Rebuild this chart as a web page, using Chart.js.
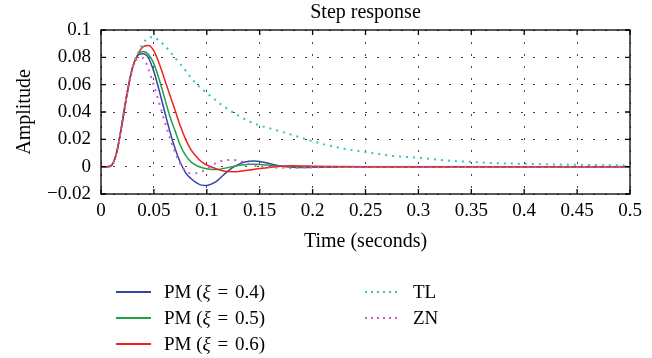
<!DOCTYPE html>
<html>
<head>
<meta charset="utf-8">
<script src="https://cdn.jsdelivr.net/npm/chart.js@4.4.0/dist/chart.umd.min.js"></script>
<style>
    html, body { margin: 0; padding: 0; background: #fff; }
    #wrap { position: relative; width: 652px; height: 358px; }
    #legend { position: absolute; left: 0; top: 0; font-family: "Liberation Serif", serif; font-size: 19px; color: #000; }
    .item { position: absolute; height: 26px; display: flex; align-items: center; white-space: pre; }
    .swatch { width: 35px; height: 2px; margin-right: 13px; }
    .eq { margin: 0 2px; }
</style>
</head>
<body>
<div id="wrap">
    <canvas id="myChart" width="652" height="358"></canvas>
    <div id="legend"></div>
</div>
<script>
const times = [0, 0.005, 0.01, 0.015, 0.02, 0.025, 0.03, 0.035, 0.04, 0.045, 0.05, 0.055, 0.06, 0.065, 0.07, 0.075,
    0.08, 0.085, 0.09, 0.095, 0.1, 0.105, 0.11, 0.115, 0.12, 0.125, 0.13, 0.135, 0.14, 0.145, 0.15, 0.155, 0.16,
    0.165, 0.17, 0.175, 0.18, 0.19, 0.2, 0.225, 0.25, 0.275, 0.3, 0.325, 0.35, 0.375, 0.4, 0.425, 0.45, 0.475, 0.5];

const pm04 = [0, 0, 0.001, 0.011, 0.032, 0.055, 0.073, 0.0815, 0.0826, 0.0795, 0.0695, 0.0557, 0.0407, 0.026, 0.0133, 0.003,
    -0.0045, -0.0087, -0.0117, -0.0135, -0.0137, -0.0125, -0.0102, -0.0066, -0.0033, -0.0004, 0.0017, 0.0032, 0.0039, 0.0041,
    0.0038, 0.0031, 0.0021, 0.0012, 0.0004, -0.0001, -0.0004, -0.0006, -0.0005, -0.0002, 0, 0, 0, 0, 0, 0, 0, 0, 0, 0, 0];
const pm05 = [0, 0, 0.001, 0.011, 0.032, 0.055, 0.073, 0.0818, 0.0843, 0.082, 0.0752, 0.0638, 0.0505, 0.037, 0.0262, 0.0155,
    0.0082, 0.0035, 0.001, -0.0006, -0.0016, -0.002, -0.002, -0.0014, -0.0006, 0.0002, 0.0009, 0.0014, 0.0017, 0.0017,
    0.0016, 0.0013, 0.001, 0.0007, 0.0005, 0.0003, 0.0001, 0, -0.0001, 0, 0, 0, 0, 0, 0, 0, 0, 0, 0, 0, 0];
const pm06 = [0, 0, 0.001, 0.011, 0.032, 0.055, 0.073, 0.0825, 0.0878, 0.0887, 0.0848, 0.0755, 0.0642, 0.0527, 0.0412, 0.0297,
    0.02, 0.0125, 0.0074, 0.0036, 0.0012, -0.0004, -0.0018, -0.003, -0.0036, -0.0037, -0.0035, -0.003, -0.0025, -0.0019,
    -0.0014, -0.0009, -0.0004, 0, 0.0003, 0.0005, 0.0006, 0.0005, 0.0003, 0.0001, 0, 0, 0, 0, 0, 0, 0, 0, 0, 0, 0];
const tl = [0, 0, 0.001, 0.011, 0.032, 0.055, 0.073, 0.083, 0.0905, 0.0945, 0.0948, 0.092, 0.0889, 0.0843, 0.0797, 0.075,
    0.0702, 0.0652, 0.0608, 0.057, 0.0538, 0.0508, 0.0477, 0.0447, 0.0421, 0.0396, 0.0373, 0.0351, 0.0332, 0.0316,
    0.0302, 0.029, 0.0279, 0.0268, 0.0257, 0.0246, 0.0234, 0.021, 0.0186, 0.0138, 0.0107, 0.0079, 0.0065, 0.0046,
    0.0035, 0.0025, 0.0021, 0.0017, 0.0014, 0.0011, 0.0009];
const zn = [0, 0, 0.001, 0.011, 0.032, 0.055, 0.073, 0.079, 0.0795, 0.071, 0.0595, 0.0466, 0.0336, 0.0212, 0.0105, 0.002,
    -0.0033, -0.0049, -0.0048, -0.0037, -0.0015, 0.001, 0.0032, 0.0044, 0.0049, 0.0049, 0.0044, 0.0032, 0.0018, 0.0008,
    0.0002, -0.0002, -0.0005, -0.0007, -0.0008, -0.0009, -0.0009, -0.0007, -0.0005, -0.0002, 0, 0, 0, 0, 0, 0, 0, 0, 0, 0, 0];

const seriesNames = ['PM (ξ = 0.4)', 'PM (ξ = 0.5)', 'PM (ξ = 0.6)', 'TL', 'ZN'];
const seriesColors = ['#3445a8', '#22a044', '#f02020', '#33c4c4', '#c060c8'];

function points(values) {
    return times.map((t, i) => ({ x: t, y: values[i] }));
}

function makeSet(i, values, dotted, order) {
    return {
        label: seriesNames[i],
        data: points(values),
        borderColor: seriesColors[i],
        borderWidth: dotted ? 2 : 1.5,
        borderDash: dotted ? [2, 5] : [],
        pointRadius: 0,
        cubicInterpolationMode: 'monotone',
        fill: false,
        order: order
    };
}

const frame = {
    id: 'frame',
    afterDraw(chart) {
        const { ctx, chartArea: a, scales: { x, y } } = chart;
        ctx.save();
        ctx.strokeStyle = '#000';
        ctx.lineWidth = 1.3;
        ctx.strokeRect(a.left, a.top, a.right - a.left, a.bottom - a.top);
        ctx.beginPath();
        x.ticks.forEach(t => {
            const px = x.getPixelForValue(t.value);
            ctx.moveTo(px, a.bottom); ctx.lineTo(px, a.bottom - 5);
            ctx.moveTo(px, a.top); ctx.lineTo(px, a.top + 5);
        });
        y.ticks.forEach(t => {
            const py = y.getPixelForValue(t.value);
            ctx.moveTo(a.left, py); ctx.lineTo(a.left + 5, py);
            ctx.moveTo(a.right, py); ctx.lineTo(a.right - 5, py);
        });
        ctx.stroke();
        ctx.restore();
    }
};

const serif = 'Liberation Serif';
const ctx = document.getElementById('myChart').getContext('2d');
const myChart = new Chart(ctx, {
    type: 'line',
    data: {
        datasets: [
            makeSet(0, pm04, false, 4),
            makeSet(1, pm05, false, 3),
            makeSet(2, pm06, false, 2),
            makeSet(3, tl, true, 1),
            makeSet(4, zn, true, 0)
        ]
    },
    options: {
        responsive: false,
        animation: false,
        layout: { padding: { left: 0, right: 22, top: 0, bottom: 104 } },
        plugins: {
            legend: { display: false },
            tooltip: { enabled: false },
            title: {
                display: true,
                text: 'Step response',
                fullSize: false,
                color: '#000',
                font: { family: serif, size: 20, weight: 'normal' },
                padding: { top: 1, bottom: 5 }
            }
        },
        scales: {
            x: {
                type: 'linear',
                min: 0,
                max: 0.5,
                afterFit: s => { s.height = 60; },
                ticks: {
                    stepSize: 0.05,
                    padding: 6,
                    color: '#000',
                    maxRotation: 0,
                    autoSkip: false,
                    font: { family: serif, size: 19 },
                    callback: v => String(Number(v.toFixed(3)))
                },
                grid: { color: '#444', lineWidth: 1, drawTicks: false },
                border: { display: false, dash: [2, 10] },
                title: {
                    display: true,
                    text: 'Time (seconds)',
                    color: '#000',
                    font: { family: serif, size: 20 },
                    padding: { top: 0, bottom: 0 }
                }
            },
            y: {
                min: -0.02,
                max: 0.1,
                afterFit: s => { s.width = 101; },
                ticks: {
                    stepSize: 0.02,
                    padding: 10,
                    color: '#000',
                    font: { family: serif, size: 19 },
                    callback: v => String(Number(v.toFixed(3))).replace('-', '\u2212')
                },
                grid: { color: '#444', lineWidth: 1, drawTicks: false },
                border: { display: false, dash: [2, 10] },
                title: {
                    display: true,
                    text: 'Amplitude',
                    color: '#000',
                    font: { family: serif, size: 20 },
                    padding: { top: 13, bottom: 0 }
                }
            }
        }
    },
    plugins: [frame]
});

// legend below the plot, two columns
const legendSpots = [[116, 279], [116, 305], [116, 331], [365, 279], [365, 305]];
const legend = document.getElementById('legend');
seriesNames.forEach((name, i) => {
    const dotted = i >= 3;
    const item = document.createElement('div');
    item.className = 'item';
    item.style.left = legendSpots[i][0] + 'px';
    item.style.top = legendSpots[i][1] + 'px';
    const sw = document.createElement('span');
    sw.className = 'swatch';
    sw.style.background = dotted
        ? 'repeating-linear-gradient(to right, ' + seriesColors[i] + ' 0 2px, transparent 2px 6px)'
        : seriesColors[i];
    sw.style.height = dotted ? '2px' : '1.5px';
    const label = document.createElement('span');
    label.innerHTML = name.replace('ξ', '<i>ξ</i>').replace(' = ', ' <span class="eq">=</span> ');
    item.appendChild(sw);
    item.appendChild(label);
    legend.appendChild(item);
});
</script>
</body>
</html>
